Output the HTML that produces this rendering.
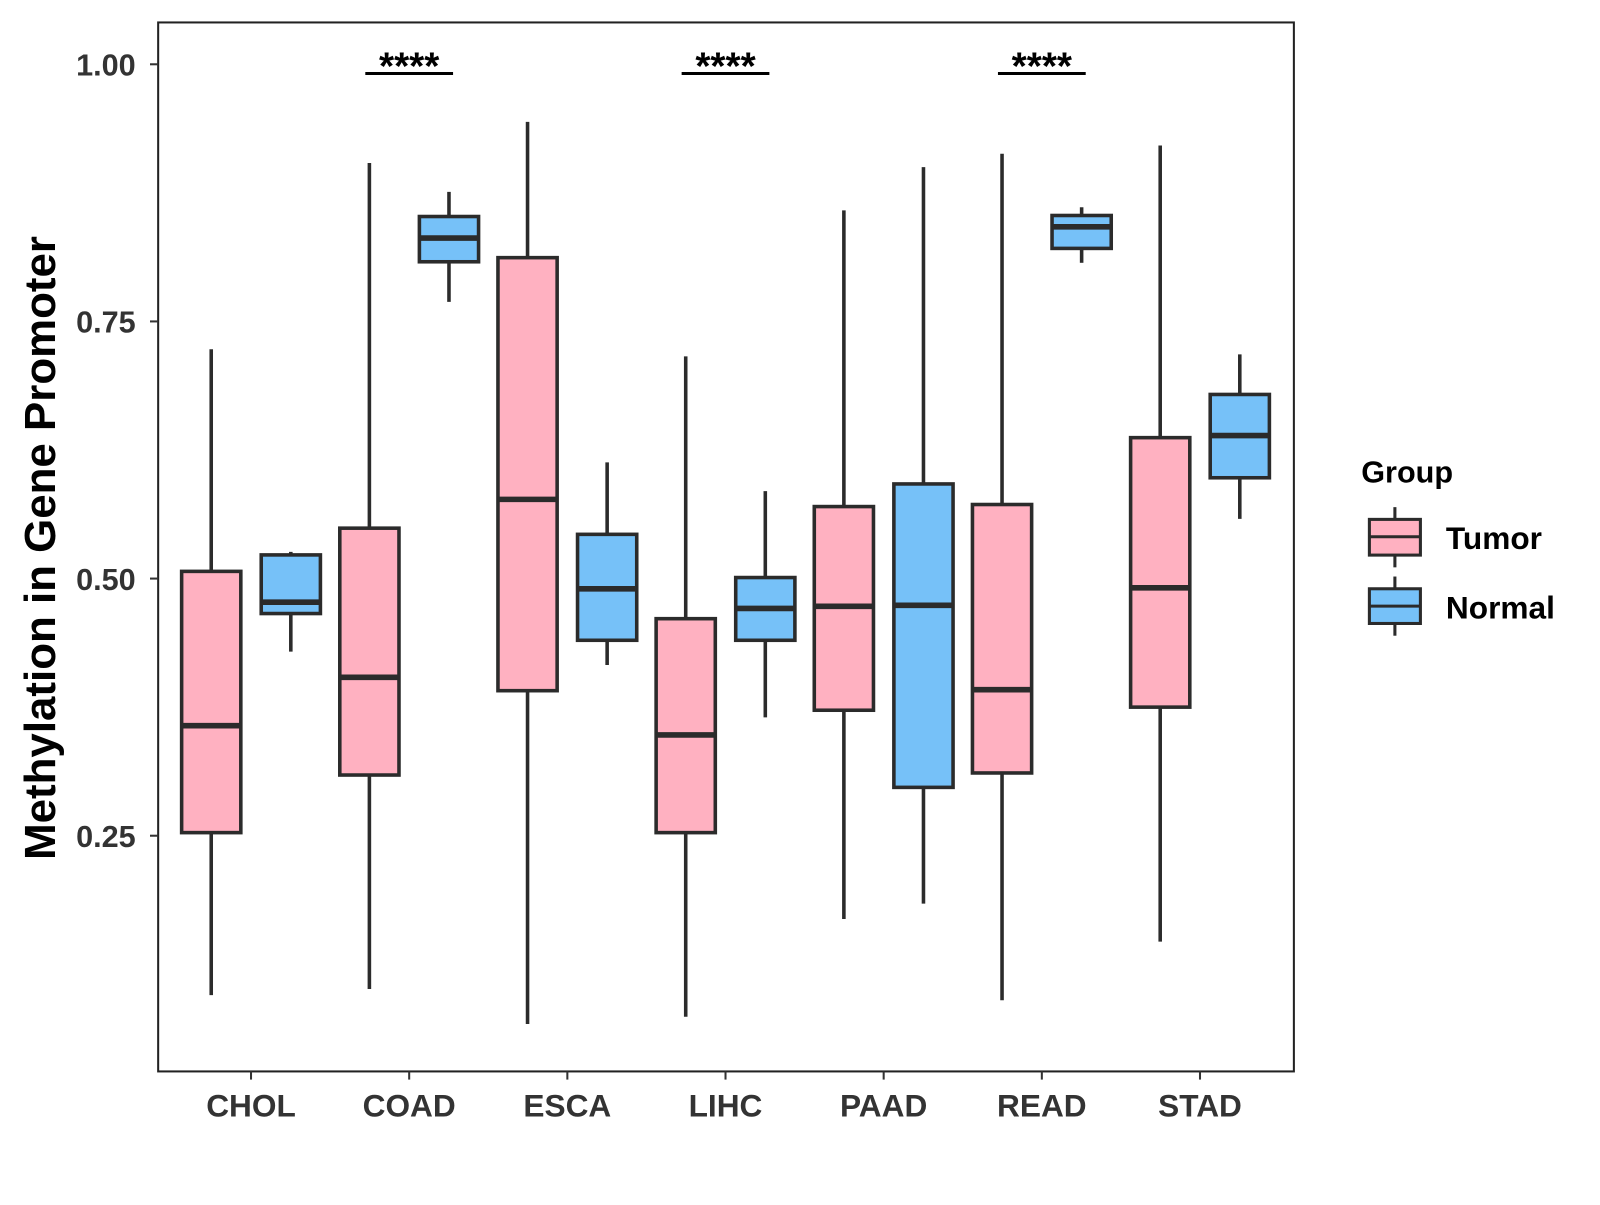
<!DOCTYPE html>
<html><head><meta charset="utf-8"><style>
body{margin:0;background:#fff}
svg text{font-family:"Liberation Sans",Arial,sans-serif;font-weight:bold}
</style></head><body>
<svg id="chart" width="1600" height="1200" viewBox="0 0 1568 1176" xmlns="http://www.w3.org/2000/svg">
<rect x="0" y="0" width="1568" height="1176" fill="#fff"/>
<g id="marks"></g>
<rect x="155" y="22" width="1113" height="1028" fill="none" stroke="#222" stroke-width="2"/>
<g id="axes"></g>
<text transform="translate(54,537) rotate(-90)" text-anchor="middle" font-size="43" fill="#000">Methylation in Gene Promoter</text>
<g>
<text x="1334" y="473" font-size="30" fill="#000">Group</text>
<g>
<line x1="1367" y1="497" x2="1367" y2="556" stroke="#2b2b2b" stroke-width="3"/>
<rect x="1342" y="509" width="50" height="35" fill="#FFB1C1" stroke="#2b2b2b" stroke-width="3"/>
<line x1="1342" y1="526" x2="1392" y2="526" stroke="#2b2b2b" stroke-width="3"/>
<text x="1417" y="538" font-size="31" fill="#000">Tumor</text></g>
<g>
<line x1="1367" y1="565" x2="1367" y2="623" stroke="#2b2b2b" stroke-width="3"/>
<rect x="1342" y="577" width="50" height="34" fill="#76C1F8" stroke="#2b2b2b" stroke-width="3"/>
<line x1="1342" y1="594" x2="1392" y2="594" stroke="#2b2b2b" stroke-width="3"/>
<text x="1417" y="606" font-size="31" fill="#000">Normal</text></g>
</g>
</svg>
<script>
const categories=["CHOL","COAD","ESCA","LIHC","PAAD","READ","STAD"];
const tumorLow=[0.095,0.101,0.067,0.074,0.169,0.090,0.147];
const tumorQ1=[0.253,0.309,0.391,0.253,0.372,0.311,0.375];
const tumorMed=[0.357,0.404,0.577,0.348,0.473,0.392,0.491];
const tumorQ3=[0.507,0.549,0.812,0.461,0.570,0.572,0.637];
const tumorHigh=[0.723,0.904,0.944,0.716,0.858,0.913,0.921];
const normalLow=[0.429,0.769,0.416,0.365,0.184,0.807,0.558];
const normalQ1=[0.466,0.808,0.440,0.440,0.297,0.821,0.598];
const normalMed=[0.477,0.831,0.490,0.471,0.474,0.842,0.639];
const normalQ3=[0.523,0.852,0.543,0.501,0.592,0.853,0.679];
const normalHigh=[0.526,0.876,0.613,0.585,0.900,0.861,0.718];
const signif=["","****","","****","","****",""];
const yTicks=[0.25,0.50,0.75,1.00];
const yTickLabels=["0.25","0.50","0.75","1.00"];
const NS="http://www.w3.org/2000/svg";
const y=v=>63+(1-v)*1008;
const x=i=>246+i*155;
function mk(tag,attrs,parent){const e=document.createElementNS(NS,tag);for(const k in attrs)e.setAttribute(k,attrs[k]);parent.appendChild(e);return e;}
const marks=document.getElementById('marks'),axes=document.getElementById('axes');
const st="#2b2b2b";
function box(cx,lo,q1,md,q3,hi,fill,name){
 const g=mk('g',{},marks);
 
 
 mk('line',{x1:cx,x2:cx,y1:y(hi),y2:y(lo),stroke:st,'stroke-width':3.5},g);
 mk('rect',{x:cx-29,y:y(q3),width:58,height:y(q1)-y(q3),fill:fill,stroke:st,'stroke-width':3.5},g);
 mk('line',{x1:cx-29,x2:cx+29,y1:y(md),y2:y(md),stroke:st,'stroke-width':5.5},g);
}
categories.forEach((c,i)=>{
 box(x(i)-39,tumorLow[i],tumorQ1[i],tumorMed[i],tumorQ3[i],tumorHigh[i],"#FFB1C1","box-tumor-"+c.toLowerCase());
 box(x(i)+39,normalLow[i],normalQ1[i],normalMed[i],normalQ3[i],normalHigh[i],"#76C1F8","box-normal-"+c.toLowerCase());
 if(signif[i]){
  const l=mk('line',{x1:x(i)-43,x2:x(i)+43,y1:72,y2:72,stroke:"#000",'stroke-width':3},marks);
  
  
  const t=mk('text',{x:x(i),y:78,'text-anchor':'middle','font-size':38,fill:"#000"},marks);
  
  
  t.textContent=signif[i];
 }
 const tk=mk('line',{x1:x(i),x2:x(i),y1:1050,y2:1058,stroke:"#333",'stroke-width':2},axes);
 
 
 const lb=mk('text',{x:x(i),y:1094,'text-anchor':'middle','font-size':31,fill:"#333"},axes);
 
 
 lb.textContent=c;
});
yTicks.forEach((v,i)=>{
 const tk=mk('line',{x1:147,x2:155,y1:y(v),y2:y(v),stroke:"#333",'stroke-width':2},axes);
 
 
 const lb=mk('text',{x:133,y:y(v)+11,'text-anchor':'end','font-size':30,fill:"#333"},axes);
 
 
 lb.textContent=yTickLabels[i];
});
</script>
</body></html>
